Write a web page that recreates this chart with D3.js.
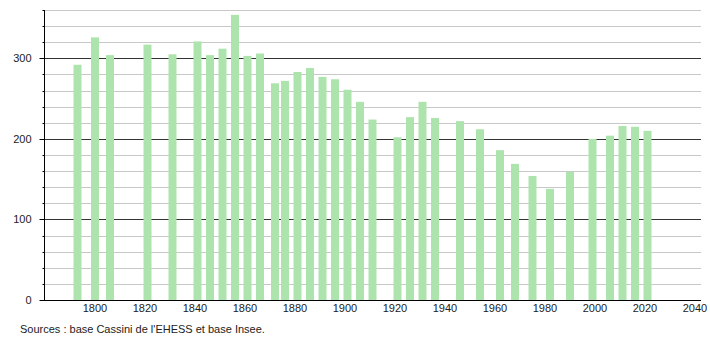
<!DOCTYPE html>
<html>
<head>
<meta charset="utf-8">
<script src="https://cdn.jsdelivr.net/npm/d3@7"></script>
<style>
  body { margin: 0; background: #fff; }
  svg text { font-family: "Liberation Sans", Arial, sans-serif; }
</style>
</head>
<body>
<div id="graph"></div>
<script>
// census years and population
var years = [1793, 1800, 1806, 1821, 1831, 1841, 1846, 1851, 1856, 1861, 1866,
  1872, 1876, 1881, 1886, 1891, 1896, 1901, 1906, 1911, 1921, 1926, 1931, 1936,
  1946, 1954, 1962, 1968, 1975, 1982, 1990, 1999, 2006, 2011, 2016, 2021];
var population = [292, 326, 304, 317, 305, 321, 304, 312, 354, 303, 306,
  269, 272, 283, 288, 277, 274, 261, 246, 224, 202, 227, 246, 226,
  222, 212, 186, 169, 154, 138, 159, 200, 204, 216, 215, 210];
var xTicks = [1800, 1820, 1840, 1860, 1880, 1900, 1920, 1940, 1960, 1980, 2000, 2020, 2040];
var yTicks = [0, 100, 200, 300];
var source = "Sources : base Cassini de l'EHESS et base Insee.";

var width = 710;
var height = 340;
// plot box (note: 'top' is reserved on window, so use other names)
var plotLeft = 44, plotRight = 701, plotTop = 10, plotBottom = 300;
var barWidth = 8;

var svg = d3.select('#graph')
  .append('svg')
  .attr('width', width)
  .attr('height', height);

var x = d3.scaleLinear().domain([1779.6, 2042.4]).range([plotLeft, plotRight]);
var y = d3.scaleLinear().domain([0, 360]).range([plotBottom, plotTop]);

// grid lines every 20, darker ones every 100
var grid = d3.range(20, 361, 20);
svg.append('g')
  .selectAll('line')
  .data(grid)
  .enter()
  .append('line')
  .attr('x1', plotLeft)
  .attr('x2', plotRight)
  .attr('y1', function(d) { return Math.round(y(d)) + 0.5; })
  .attr('y2', function(d) { return Math.round(y(d)) + 0.5; })
  .attr('stroke', function(d) { return d % 100 === 0 ? '#333' : '#c8c8c8'; })
  .attr('stroke-width', 1);

// bars
svg.append('g')
  .selectAll('rect')
  .data(years)
  .enter()
  .append('rect')
  .attr('x', function(d) { return x(d) - barWidth / 2; })
  .attr('y', function(d, i) { return y(population[i]); })
  .attr('width', barWidth)
  .attr('height', function(d, i) { return y(0) - y(population[i]); })
  .attr('fill', '#ade3ad');

// y axis with minor ticks
var yAxis = svg.append('g')
  .attr('transform', 'translate(' + (plotLeft + 0.5) + ',0)');
yAxis.append('line')
  .attr('y1', plotTop)
  .attr('y2', plotBottom)
  .attr('stroke', '#000');
yAxis.selectAll('line.tick')
  .data(grid)
  .enter()
  .append('line')
  .attr('class', 'tick')
  .attr('x1', function(d) { return d % 100 === 0 ? -5 : -2; })
  .attr('x2', 0)
  .attr('y1', function(d) { return Math.round(y(d)) + 0.5; })
  .attr('y2', function(d) { return Math.round(y(d)) + 0.5; })
  .attr('stroke', '#000');
yAxis.append('line')
  .attr('x1', -5).attr('x2', 0)
  .attr('y1', plotBottom + 0.5).attr('y2', plotBottom + 0.5)
  .attr('stroke', '#000');
yAxis.selectAll('text')
  .data(yTicks)
  .enter()
  .append('text')
  .attr('x', -13)
  .attr('y', function(d) { return y(d) + 4; })
  .attr('text-anchor', 'end')
  .attr('font-size', 11)
  .attr('fill', '#222')
  .text(function(d) { return d; });

// x axis: line and labels only
svg.append('line')
  .attr('x1', plotLeft)
  .attr('x2', plotRight)
  .attr('y1', plotBottom + 0.5)
  .attr('y2', plotBottom + 0.5)
  .attr('stroke', '#000');
svg.append('g')
  .selectAll('text')
  .data(xTicks)
  .enter()
  .append('text')
  .attr('x', function(d) { return x(d); })
  .attr('y', plotBottom + 12)
  .attr('text-anchor', 'middle')
  .attr('font-size', 11)
  .attr('fill', '#222')
  .text(function(d) { return d; });

svg.append('text')
  .attr('x', 20)
  .attr('y', 333)
  .attr('font-size', 11)
  .attr('fill', '#222')
  .text(source);
</script>
</body>
</html>
